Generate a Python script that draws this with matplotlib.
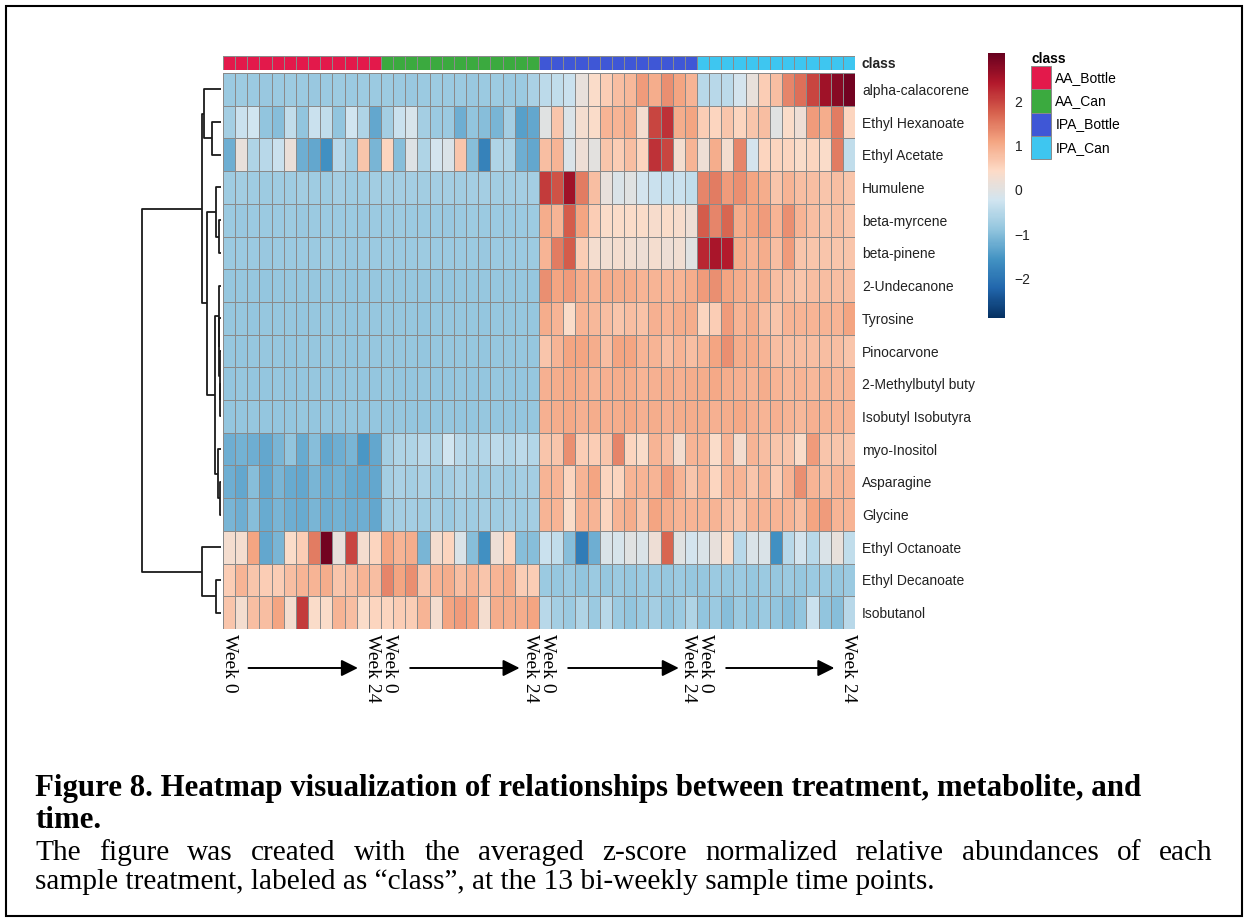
import matplotlib.pyplot as plt
import numpy as np
import matplotlib.transforms as mtransforms
from matplotlib.colors import ListedColormap, LinearSegmentedColormap, Normalize
from matplotlib.cm import ScalarMappable
from matplotlib.patches import Patch, Rectangle

W, H = 1248, 922

metabolites = [
    "alpha-calacorene", "Ethyl Hexanoate", "Ethyl Acetate", "Humulene",
    "beta-myrcene", "beta-pinene", "2-Undecanone", "Tyrosine", "Pinocarvone",
    "2-Methylbutyl buty", "Isobutyl Isobutyra", "myo-Inositol", "Asparagine",
    "Glycine", "Ethyl Octanoate", "Ethyl Decanoate", "Isobutanol",
]
classes = ["AA_Bottle", "AA_Can", "IPA_Bottle", "IPA_Can"]
class_colors = ["#E3194B", "#3BAA3F", "#3F57D6", "#3EC6F0"]
n_weeks = 13

# averaged z-scores, 13 bi-weekly points per class (AA_Bottle, AA_Can, IPA_Bottle, IPA_Can)
alpha_calacorene = [
    -0.80, -0.78, -0.80, -0.82, -0.80, -0.78, -0.80, -0.82, -0.80, -0.78, -0.80, -0.78, -0.80,
    -0.78, -0.80, -0.82, -0.80, -0.78, -0.80, -0.80, -0.82, -0.80, -0.78, -0.80, -0.80, -0.65,
    -0.45, -0.40, -0.30, 0.10, 0.40, 0.60, 0.80, 0.85, 1.20, 1.00, 1.30, 1.10, 0.90,
    -0.50, -0.50, -0.45, -0.20, 0.10, 0.60, 0.80, 1.40, 1.60, 2.00, 2.60, 2.80, 3.00,
]
ethyl_hexanoate = [
    -0.70, -0.30, -0.25, -0.90, -1.00, -0.40, -0.90, -0.30, -0.40, -0.90, -0.25, -0.60, -1.30,
    -0.70, -0.30, -0.15, -0.70, -0.80, -0.80, -1.20, -0.90, -1.00, -1.10, -0.70, -1.40, -1.30,
    0.00, 0.70, -0.10, 0.30, 0.40, 0.90, 0.90, 1.00, 0.30, 2.00, 2.20, 1.00, 1.10,
    0.60, 0.50, 0.70, 0.50, 0.70, 0.80, 0.00, 0.40, 0.20, 1.20, 1.00, 1.50, 0.50,
]
ethyl_acetate = [
    -1.20, 0.10, -0.60, -0.50, -0.30, 0.15, -1.20, -1.30, -1.60, -0.50, -0.70, 0.70, -1.10,
    0.50, -1.00, -0.05, -0.60, -0.20, -0.10, 0.70, -1.00, -1.80, -0.60, -0.60, -1.20, -1.30,
    0.80, 0.90, -0.10, 0.20, 0.05, 0.70, 0.60, 0.80, 0.50, 2.20, 2.00, 0.30, 0.90,
    0.20, 1.00, 0.30, 1.40, -0.20, 0.50, 0.50, 0.50, 0.40, 0.50, 0.40, 1.50, -0.40,
]
humulene = [
    -0.76, -0.74, -0.76, -0.78, -0.75, -0.76, -0.74, -0.76, -0.77, -0.72, -0.75, -0.76, -0.74,
    -0.72, -0.70, -0.72, -0.74, -0.70, -0.72, -0.73, -0.70, -0.72, -0.74, -0.71, -0.72, -0.72,
    2.10, 1.90, 2.60, 1.50, 0.80, 0.10, -0.10, 0.00, -0.20, -0.30, -0.35, -0.30, -0.40,
    1.40, 1.50, 1.20, 1.30, 1.10, 1.00, 0.70, 0.90, 0.80, 0.80, 0.70, 0.80, 0.70,
]
beta_myrcene = [
    -0.80, -0.82, -0.80, -0.81, -0.80, -0.79, -0.82, -0.80, -0.81, -0.80, -0.80, -0.82, -0.80,
    -0.80, -0.79, -0.80, -0.81, -0.80, -0.82, -0.80, -0.79, -0.80, -0.81, -0.80, -0.80, -0.78,
    1.00, 0.90, 1.80, 1.10, 0.60, 0.40, 0.40, 0.40, 0.40, 0.35, 0.40, 0.35, 0.20,
    1.80, 1.40, 1.70, 1.00, 1.10, 1.20, 0.90, 1.30, 0.90, 0.80, 0.70, 0.80, 0.70,
]
beta_pinene = [
    -0.80, -0.81, -0.80, -0.82, -0.80, -0.80, -0.81, -0.80, -0.79, -0.80, -0.82, -0.80, -0.80,
    -0.81, -0.80, -0.80, -0.79, -0.80, -0.81, -0.80, -0.80, -0.82, -0.80, -0.80, -0.81, -0.79,
    0.90, 1.50, 1.80, 0.60, 0.30, 0.25, 0.30, 0.25, 0.20, 0.30, 0.20, 0.25, 0.00,
    2.30, 2.50, 2.40, 1.00, 0.90, 1.00, 0.80, 1.20, 0.70, 0.70, 0.70, 0.70, 0.70,
]
undecanone = [
    -0.85, -0.86, -0.85, -0.87, -0.85, -0.86, -0.85, -0.84, -0.86, -0.85, -0.87, -0.85, -0.86,
    -0.85, -0.84, -0.86, -0.85, -0.85, -0.87, -0.85, -0.86, -0.85, -0.84, -0.86, -0.85, -0.85,
    1.30, 1.10, 1.20, 1.00, 0.90, 1.00, 1.00, 1.00, 0.90, 0.90, 0.90, 0.90, 1.00,
    1.20, 1.30, 1.10, 1.00, 0.90, 1.00, 0.80, 0.80, 0.70, 0.80, 0.80, 0.80, 0.80,
]
tyrosine = [
    -0.86, -0.85, -0.87, -0.86, -0.85, -0.86, -0.88, -0.86, -0.85, -0.86, -0.87, -0.85, -0.86,
    -0.85, -0.86, -0.86, -0.87, -0.85, -0.86, -0.85, -0.86, -0.87, -0.85, -0.86, -0.86, -0.85,
    1.00, 0.90, 0.40, 0.90, 0.85, 0.80, 0.70, 0.80, 0.75, 0.95, 0.90, 1.00, 1.00,
    0.50, 0.60, 1.20, 0.90, 1.00, 0.80, 0.70, 0.90, 0.90, 0.90, 0.90, 0.90, 1.10,
]
pinocarvone = [
    -0.86, -0.87, -0.86, -0.85, -0.86, -0.87, -0.86, -0.85, -0.86, -0.86, -0.87, -0.86, -0.85,
    -0.86, -0.85, -0.86, -0.87, -0.86, -0.86, -0.85, -0.86, -0.87, -0.86, -0.85, -0.86, -0.86,
    0.70, 0.90, 1.10, 1.10, 1.00, 0.80, 1.10, 1.10, 0.90, 0.90, 0.80, 0.90, 0.80,
    0.90, 1.10, 1.30, 1.00, 1.00, 0.90, 0.80, 0.80, 0.80, 0.80, 0.80, 0.80, 0.70,
]
methylbutyl_butyrate = [
    -0.87, -0.86, -0.87, -0.88, -0.86, -0.87, -0.87, -0.86, -0.88, -0.87, -0.86, -0.87, -0.87,
    -0.86, -0.87, -0.88, -0.86, -0.87, -0.87, -0.86, -0.87, -0.88, -0.86, -0.87, -0.87, -0.86,
    0.95, 1.00, 1.05, 1.00, 0.90, 0.95, 1.00, 1.00, 0.90, 0.95, 1.00, 0.95, 1.00,
    1.00, 1.05, 1.00, 0.95, 0.90, 1.00, 0.90, 0.85, 0.90, 0.85, 0.90, 0.85, 0.90,
]
isobutyl_isobutyrate = [
    -0.87, -0.87, -0.86, -0.87, -0.88, -0.87, -0.86, -0.87, -0.87, -0.88, -0.86, -0.87, -0.87,
    -0.87, -0.86, -0.87, -0.87, -0.88, -0.86, -0.87, -0.87, -0.86, -0.88, -0.87, -0.87, -0.86,
    0.95, 1.00, 1.05, 0.95, 1.00, 0.95, 1.00, 1.05, 0.95, 1.00, 0.95, 1.00, 1.00,
    1.00, 0.95, 1.00, 1.05, 0.95, 0.90, 0.95, 0.90, 0.85, 0.95, 0.90, 0.90, 0.90,
]
myo_inositol = [
    -1.20, -1.15, -1.20, -1.30, -1.10, -0.90, -1.25, -1.00, -1.30, -1.20, -1.10, -1.50, -1.30,
    -0.70, -0.60, -0.60, -0.50, -0.60, -0.25, -0.50, -0.60, -0.55, -0.45, -0.55, -0.45, -0.55,
    0.70, 0.70, 1.30, 0.60, 0.60, 0.70, 1.40, 0.50, 0.40, 0.90, 0.80, 0.30, 0.90,
    0.90, 0.40, 0.90, 0.30, 0.90, 0.80, 0.70, 0.70, 0.40, 1.20, 0.70, 0.70, 0.70,
]
asparagine = [
    -1.20, -1.30, -1.00, -1.30, -1.10, -1.25, -1.30, -1.10, -1.20, -1.15, -1.25, -1.30, -1.30,
    -0.70, -0.65, -0.70, -0.65, -0.75, -0.70, -0.65, -0.70, -0.75, -0.70, -0.75, -0.70, -0.70,
    0.90, 0.90, 0.50, 0.90, 1.10, 0.50, 0.50, 0.90, 0.90, 0.90, 1.20, 0.90, 0.70,
    0.90, 0.50, 0.90, 0.90, 0.70, 0.90, 0.60, 0.90, 1.30, 0.90, 0.80, 0.90, 0.90,
]
glycine = [
    -1.10, -1.20, -1.00, -1.25, -1.10, -1.20, -1.25, -1.10, -1.20, -1.15, -1.20, -1.20, -1.30,
    -0.75, -0.70, -0.70, -0.75, -0.70, -0.80, -0.70, -0.75, -0.70, -0.75, -0.70, -0.75, -0.70,
    0.90, 0.90, 0.40, 0.90, 0.90, 0.50, 0.90, 1.00, 0.70, 1.10, 1.00, 0.90, 0.90,
    0.90, 0.90, 0.80, 0.70, 0.90, 0.90, 0.90, 0.90, 0.80, 1.10, 1.20, 0.90, 0.90,
]
ethyl_octanoate = [
    0.30, 0.30, 1.10, -1.30, -1.10, 0.40, 0.60, 1.50, 3.00, 0.10, 2.00, 0.30, 0.50,
    1.10, 0.90, 1.00, -1.10, 0.30, 0.50, -0.10, -1.00, -1.60, 0.20, 0.50, -1.00, -1.00,
    -0.30, -0.40, -1.00, -1.90, -1.20, -0.10, -0.15, 0.00, -0.10, 0.20, 1.70, 0.00, -0.20,
    -0.10, 0.10, 0.40, -0.50, -0.10, -0.10, -1.60, -0.50, -0.20, -0.50, -0.10, 0.10, -0.40,
]
ethyl_decanoate = [
    0.60, 0.90, 0.70, 0.60, 0.60, 0.80, 0.90, 0.90, 1.00, 0.70, 0.80, 0.90, 0.80,
    1.40, 1.10, 1.30, 0.70, 0.90, 1.00, 0.80, 0.90, 0.70, 0.90, 1.00, 0.60, 0.60,
    -0.80, -0.85, -0.80, -0.90, -0.80, -0.85, -0.80, -0.85, -0.80, -0.80, -0.85, -0.80, -0.85,
    -0.85, -0.80, -0.85, -0.80, -0.85, -0.80, -0.85, -0.80, -0.85, -0.80, -0.80, -0.85, -0.80,
]
isobutanol = [
    0.70, 0.30, 0.80, 0.80, 1.10, 0.30, 2.10, 0.40, 0.40, 0.90, 0.80, 0.40, 0.50,
    0.50, 0.60, 0.60, 0.90, 0.30, 1.10, 1.20, 1.10, 0.30, 1.00, 1.00, 1.00, 1.10,
    -0.50, -0.70, -0.80, -0.60, -0.80, -0.50, -0.80, -0.90, -0.80, -0.70, -0.90, -0.80, -0.60,
    -0.90, -0.80, -1.00, -0.80, -0.90, -0.80, -0.90, -1.00, -0.90, -0.30, -0.90, -1.00, -0.50,
]

# row clustering: (left, right, height); ids >= 17 refer to earlier merges
row_merges = [
    (1, 2, 0.11),      # 17
    (0, 17, 0.215),    # 18
    (4, 5, 0.03),      # 19
    (3, 19, 0.06),     # 20
    (9, 10, 0.01),     # 21
    (8, 21, 0.015),    # 22
    (7, 22, 0.02),     # 23
    (6, 23, 0.03),     # 24
    (12, 13, 0.015),   # 25
    (11, 25, 0.035),   # 26
    (24, 26, 0.07),    # 27
    (20, 27, 0.18),    # 28
    (18, 28, 0.24),    # 29
    (15, 16, 0.06),    # 30
    (14, 30, 0.24),    # 31
    (29, 31, 1.00),    # 32
]

# first and last sampling week of each class block, and the arrows between them
week_ticks = [(0.55, "Week 0"), (12.3, "Week 24"), (13.7, "Week 0"), (25.3, "Week 24"),
              (26.7, "Week 0"), (38.3, "Week 24"), (39.7, "Week 0"), (51.45, "Week 24")]
arrow_spans = [(2.1, 11.1), (15.4, 24.4), (28.4, 37.5), (41.4, 50.3)]

zscores = np.array([
    alpha_calacorene, ethyl_hexanoate, ethyl_acetate, humulene, beta_myrcene,
    beta_pinene, undecanone, tyrosine, pinocarvone, methylbutyl_butyrate,
    isobutyl_isobutyrate, myo_inositol, asparagine, glycine, ethyl_octanoate,
    ethyl_decanoate, isobutanol,
])
n_rows, n_cols = zscores.shape
vmin, vmax = -2.9, 3.1

# blue-white-red ramp built from the 10-class RdBu palette
bwm = LinearSegmentedColormap.from_list("bwm", [
    "#053061", "#2166AC", "#4393C3", "#92C5DE", "#D1E5F0",
    "#FDDBC7", "#F4A582", "#D6604D", "#B2182B", "#67001F"], N=256)


def px_rect(x0, y0, x1, y1):
    return [x0 / W, 1 - y1 / H, (x1 - x0) / W, (y1 - y0) / H]


plt.rcParams["font.family"] = "Liberation Sans"
fig = plt.figure(figsize=(W / 100, H / 100), dpi=100)
fig.patch.set_facecolor("white")

hx0, hx1, hy0, hy1 = 223, 855, 73, 629
grid_col = "#8a8a8a"
lab_size = 10

# heatmap
ax = fig.add_axes(px_rect(hx0, hy0, hx1, hy1))
ax.pcolormesh(zscores, cmap=bwm, vmin=vmin, vmax=vmax,
              edgecolors=grid_col, linewidth=0.7)
ax.set_xlim(0, n_cols)
ax.set_ylim(n_rows, 0)
ax.set_xticks([])
ax.yaxis.tick_right()
ax.set_yticks(np.arange(n_rows) + 0.5)
ax.set_yticklabels(metabolites, fontsize=lab_size, color="#222222")
ax.tick_params(axis="y", length=0, pad=5)
for s in ax.spines.values():
    s.set_visible(False)

# class annotation bar
class_codes = np.repeat(np.arange(len(classes)), n_weeks)[None, :]
ax_cls = fig.add_axes(px_rect(hx0, 56, hx1, 70))
ax_cls.pcolormesh(class_codes, cmap=ListedColormap(class_colors), vmin=-0.5,
                  vmax=len(classes) - 0.5, edgecolors=grid_col, linewidth=0.7)
ax_cls.set_xlim(0, n_cols)
ax_cls.set_xticks([])
ax_cls.yaxis.tick_right()
ax_cls.set_yticks([0.5])
ax_cls.set_yticklabels(["class"], fontsize=lab_size, fontweight="bold", color="#222222")
ax_cls.tick_params(axis="y", length=0, pad=5)
for s in ax_cls.spines.values():
    s.set_visible(False)

# row dendrogram
ax_d = fig.add_axes(px_rect(128, hy0, 221, hy1))
node_y = {i: i + 0.5 for i in range(n_rows)}
node_h = {i: 0.0 for i in range(n_rows)}
for k, (a, b, h) in enumerate(row_merges):
    ax_d.plot([node_h[a], h, h, node_h[b]], [node_y[a], node_y[a], node_y[b], node_y[b]],
              color="#1a1a1a", linewidth=1.3, solid_capstyle="butt")
    node_y[n_rows + k] = (node_y[a] + node_y[b]) / 2
    node_h[n_rows + k] = h
ax_d.set_xlim(1.18, 0)
ax_d.set_ylim(n_rows, 0)
ax_d.axis("off")

# colour key
ax_cb = fig.add_axes(px_rect(988, 53, 1005, 318))
cb = fig.colorbar(ScalarMappable(Normalize(vmin, vmax), cmap=bwm), cax=ax_cb,
                  ticks=[-2, -1, 0, 1, 2])
cb.outline.set_visible(False)
ax_cb.tick_params(length=0, labelsize=lab_size, pad=7, colors="#222222")

# class legend
handles = [Patch(facecolor=c, edgecolor=grid_col, linewidth=0.7) for c in class_colors]
fig.legend(handles, classes, loc="upper left", bbox_to_anchor=(1031 / W, 1 - 52 / H),
           frameon=False, title="class", alignment="left", fontsize=lab_size,
           title_fontproperties={"weight": "bold", "size": lab_size},
           handlelength=1.45, handleheight=2.2, handletextpad=0.3, labelspacing=0.0,
           borderpad=0.0, borderaxespad=0.0)

# time labels and arrows under the columns
serif = "Liberation Serif"
trans = mtransforms.blended_transform_factory(ax.transData, fig.transFigure)
for col, label in week_ticks:
    ax.text(col, 1 - 634 / H, label, transform=trans, rotation=-90,
            ha="center", va="top", fontsize=14, family=serif, clip_on=False)
for x0, x1 in arrow_spans:
    ax.annotate("", xy=(x1, 1 - 668 / H), xytext=(x0, 1 - 668 / H),
                xycoords=trans, textcoords=trans,
                arrowprops=dict(arrowstyle="-|>", color="black", lw=1.4,
                                mutation_scale=25, shrinkA=0, shrinkB=0))

# caption
fig.text(35 / W, 1 - 788 / H,
         "Figure 8. Heatmap visualization of relationships between treatment, metabolite, and",
         fontsize=22.2, fontweight="bold", family=serif, va="center")
fig.text(35 / W, 1 - 820 / H, "time.", fontsize=22.2, fontweight="bold",
         family=serif, va="center")


def justified_line(words, x0, x1, y, **kw):
    renderer = fig.canvas.get_renderer()
    texts = [fig.text(0, 1 - y / H, w, va="center", **kw) for w in words]
    widths = [t.get_window_extent(renderer).width for t in texts]
    gap = (x1 - x0 - sum(widths)) / (len(words) - 1)
    x = x0
    for t, w in zip(texts, widths):
        t.set_x(x / W)
        x += w + gap


justified_line("The figure was created with the averaged z-score normalized relative "
               "abundances of each".split(), 35, 1213, 853, fontsize=21.2, family=serif)
fig.text(35 / W, 1 - 882 / H,
         "sample treatment, labeled as \u201cclass\u201d, at the 13 bi-weekly sample time points.",
         fontsize=21.2, family=serif, va="center")

# page frame
fig.patches.append(Rectangle((6 / W, 6 / H), 1 - 12 / W, 1 - 12 / H, transform=fig.transFigure,
                             fill=False, edgecolor="black", linewidth=1.5))

fig.savefig("out.png", dpi=100)
